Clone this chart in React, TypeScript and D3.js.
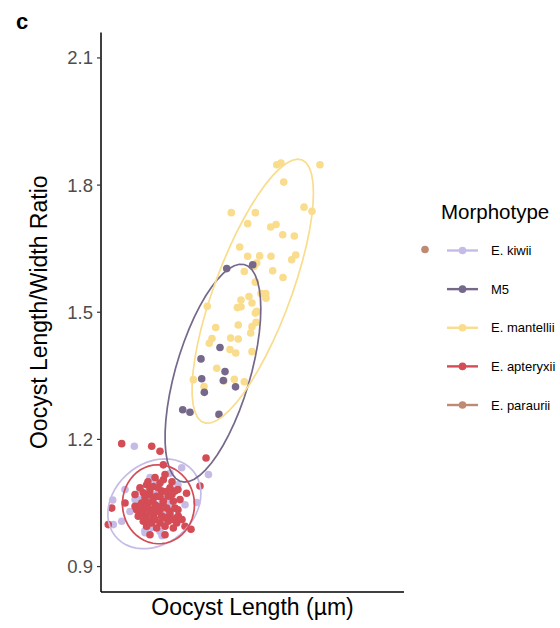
import React from "react";
import * as d3 from "d3";

type Pt = [number, number];

const morphotypes = ["E. kiwii", "M5", "E. mantellii", "E. apteryxii", "E. paraurii"];
const colors = ["#c6bbe6", "#76688a", "#f9dc8c", "#d44c55", "#bf8a73"];
const yTicks = [0.9, 1.2, 1.5, 1.8, 2.1];

const kiwiPoints: Pt[] = [
  [13.3, 1.184], [17.99, 1.133], [20.64, 1.117], [11.16, 1.057], [13.37, 1.058], [12.05, 1.007],
  [11.22, 0.999], [19.48, 1.051], [15.02, 0.992], [13.86, 1.082], [15.35, 1.105], [16.83, 1.058],
  [18.32, 1.046], [14.85, 1.023], [16.34, 1.011], [12.87, 1.03], [17.62, 1.093], [15.84, 0.983],
  [14.36, 0.98], [12.38, 1.082],
  [14.85, 1.058], [15.84, 1.046], [15.35, 1.07], [16.34, 1.034], [14.36, 1.034], [15.84, 1.082],
  [16.83, 1.046], [14.85, 1.011], [15.64, 1.023], [13.86, 1.058], [16.34, 1.07],
  [16.83, 1.12], [14.85, 1.11], [16.04, 0.973], [14.36, 0.985],
];

const mantelliiPoints: Pt[] = [
  [27.4, 1.848], [27.82, 1.852], [31.68, 1.848], [28.09, 1.807], [22.9, 1.735], [25.28, 1.735],
  [30.1, 1.748], [30.89, 1.738], [24.52, 1.709], [26.8, 1.701], [27.33, 1.707], [27.99, 1.683],
  [29.14, 1.68], [23.73, 1.654], [24.52, 1.632], [25.71, 1.633], [26.83, 1.632], [28.88, 1.624],
  [29.28, 1.635], [25.42, 1.616], [25.15, 1.608], [27.0, 1.598], [28.02, 1.582], [24.19, 1.596],
  [25.28, 1.571], [25.84, 1.544], [26.31, 1.544], [26.34, 1.533], [24.65, 1.537], [23.86, 1.529],
  [24.95, 1.522], [23.5, 1.511], [23.86, 1.513], [25.28, 1.498], [25.42, 1.502], [24.95, 1.466],
  [25.35, 1.476], [23.59, 1.47], [24.82, 1.451], [21.36, 1.464], [22.84, 1.439], [23.59, 1.437],
  [20.99, 1.438], [20.72, 1.427], [22.77, 1.412], [23.34, 1.404], [24.95, 1.407], [21.46, 1.368],
  [23.2, 1.342], [24.19, 1.336], [19.14, 1.341], [20.2, 1.325], [20.52, 1.514],
  [22.18, 1.338],
];

const m5Points: Pt[] = [
  [22.45, 1.603], [25.02, 1.612], [21.78, 1.417], [19.9, 1.39], [22.28, 1.36], [22.11, 1.339],
  [19.97, 1.343], [23.32, 1.324], [20.23, 1.311], [18.09, 1.27], [18.81, 1.264], [21.68, 1.259],
];

const apteryxiiPoints: Pt[] = [
  [12.05, 1.19], [15.02, 1.184], [15.84, 1.172], [16.17, 1.14], [20.4, 1.156], [19.8, 1.09],
  [18.47, 1.073], [11.06, 1.038], [12.38, 1.05], [10.72, 0.999], [18.91, 0.988], [17.5, 1.015],
  [14.52, 1.093], [15.18, 1.089], [15.84, 1.097], [16.17, 1.105], [16.83, 1.086], [16.01, 1.078],
  [17.33, 1.078], [14.19, 1.074], [14.85, 1.07], [15.51, 1.066], [16.66, 1.066], [14.03, 1.05],
  [14.68, 1.05], [15.35, 1.046], [16.17, 1.054], [17.16, 1.054], [17.82, 1.058], [13.53, 1.034],
  [14.19, 1.034], [15.02, 1.034], [15.84, 1.034], [16.5, 1.038], [17.33, 1.038], [13.69, 1.019],
  [14.36, 1.019], [15.18, 1.019], [16.01, 1.019], [16.83, 1.023], [17.65, 1.019], [14.19, 1.007],
  [15.02, 1.003], [15.84, 1.003], [16.66, 1.007], [17.5, 1.003], [14.52, 0.995], [15.51, 0.991],
  [16.34, 0.995], [17.16, 0.991], [18.32, 0.995], [13.37, 1.042],
  [14.85, 1.082], [15.64, 1.086], [16.44, 1.077], [14.36, 1.063], [15.15, 1.058], [15.84, 1.065],
  [17.03, 1.07], [13.86, 1.044], [14.55, 1.041], [15.64, 1.041], [16.14, 1.046], [16.83, 1.03],
  [17.62, 1.034], [14.06, 1.027], [14.85, 1.027], [15.54, 1.03], [16.34, 1.016], [17.13, 1.011],
  [14.55, 1.011], [15.35, 1.011], [18.02, 1.011],
  [15.35, 1.11], [16.34, 1.117], [14.65, 1.1], [17.03, 1.1], [13.86, 1.086], [17.62, 1.082],
  [13.37, 1.07], [14.85, 0.975], [16.34, 0.975],
];

const parauriiPoints: Pt[] = [[42.08, 1.648]];

// legend order
const groups: Pt[][] = [kiwiPoints, m5Points, mantelliiPoints, apteryxiiPoints, parauriiPoints];
// drawing order of the point layer (indices into groups)
const drawOrder = [0, 2, 1, 3, 4];

// MASS::cov.trob (nu = 5) as used by ggplot2 stat_ellipse(type = "t")
function covTrob(pts: Pt[]) {
  const n = pts.length;
  const p = 2;
  const nu = 5;
  let loc: Pt = [d3.mean(pts, (d) => d[0])!, d3.mean(pts, (d) => d[1])!];
  let w = pts.map(() => 1);
  let X: Pt[] = [];
  for (let iter = 0; iter < 25; iter++) {
    const w0 = w.slice();
    X = pts.map((d) => [d[0] - loc[0], d[1] - loc[1]] as Pt);
    const sw = d3.sum(w);
    let a = 0, b = 0, c = 0;
    X.forEach((x, i) => {
      a += w[i] * x[0] * x[0];
      b += w[i] * x[0] * x[1];
      c += w[i] * x[1] * x[1];
    });
    a /= sw; b /= sw; c /= sw;
    const det = a * c - b * b;
    const Q = X.map((x) => (c * x[0] * x[0] - 2 * b * x[0] * x[1] + a * x[1] * x[1]) / det);
    w = Q.map((q) => (nu + p) / (nu + q));
    const sw2 = d3.sum(w);
    loc = [d3.sum(pts, (d, i) => w[i] * d[0]) / sw2, d3.sum(pts, (d, i) => w[i] * d[1]) / sw2];
    if (w.every((v, i) => Math.abs(v - w0[i]) < 1e-4)) break;
  }
  let a = 0, b = 0, c = 0;
  X.forEach((x, i) => {
    a += w[i] * x[0] * x[0];
    b += w[i] * x[0] * x[1];
    c += w[i] * x[1] * x[1];
  });
  return { center: loc, cov: [a / n, b / n, c / n] };
}

function ellipsePoints(pts: Pt[], level = 0.95, segments = 51): Pt[] {
  const n = pts.length;
  const { center, cov } = covTrob(pts);
  const [a, b, c] = cov;
  const dfd = n - 1;
  const fq = (dfd / 2) * (Math.pow(1 - level, -2 / dfd) - 1);
  const radius = Math.sqrt(2 * fq);
  const u11 = Math.sqrt(a);
  const u12 = b / u11;
  const u22 = Math.sqrt(Math.max(c - u12 * u12, 0));
  return d3.range(segments + 1).map((k) => {
    const t = (k * 2 * Math.PI) / segments;
    const cx = Math.cos(t), sy = Math.sin(t);
    return [center[0] + radius * cx * u11, center[1] + radius * (cx * u12 + sy * u22)] as Pt;
  });
}

const W = 560;
const H = 628;
const left = 101;
const right = 404;
const top = 32.5;
const bottom = 592;

export default function App() {
  const x = d3.scaleLinear().domain([10, 40]).range([left, right]);
  const y = d3.scaleLinear().domain([0.84, 2.16]).range([bottom, top]);
  const line = d3
    .line<Pt>()
    .x((d) => x(d[0]))
    .y((d) => y(d[1]));

  const font = "'Liberation Sans', Arial, Helvetica, sans-serif";
  const legendY = d3.scalePoint<string>().domain(morphotypes).range([250.5, 405]);

  return (
    <svg
      width={W}
      height={H}
      style={{ position: "absolute", left: 0, top: 0, display: "block", background: "#fff" }}
      fontFamily={font}
    >
      <rect x={0} y={0} width={W} height={H} fill="#fff" />
      <text x={16} y={29} fontSize={22} fontWeight="bold" fill="#000">
        c
      </text>

      {/* points */}
      {drawOrder.map((gi) =>
        groups[gi].map((d, i) => (
          <circle key={`p${gi}-${i}`} cx={x(d[0])} cy={y(d[1])} r={3.8} fill={colors[gi]} />
        ))
      )}

      {/* ellipses */}
      {groups.map((g, gi) =>
        g.length >= 3 ? (
          <path
            key={`e${gi}`}
            d={line(ellipsePoints(g)) || ""}
            fill="none"
            stroke={colors[gi]}
            strokeWidth={1.7}
          />
        ) : null
      )}

      {/* axes */}
      <line x1={left} x2={left} y1={top} y2={bottom} stroke="#000" strokeWidth={1.5} />
      <line x1={left} x2={right} y1={bottom} y2={bottom} stroke="#000" strokeWidth={1.5} />
      {yTicks.map((t) => (
        <g key={`t${t}`}>
          <line x1={left - 4} x2={left} y1={y(t)} y2={y(t)} stroke="#333" strokeWidth={1.2} />
          <text
            x={left - 8}
            y={y(t)}
            dy="0.35em"
            textAnchor="end"
            fontSize={18.5}
            fill="#4d4d4d"
          >
            {t.toFixed(1)}
          </text>
        </g>
      ))}
      <text
        transform={`translate(47,${(top + bottom) / 2}) rotate(-90)`}
        textAnchor="middle"
        fontSize={23}
        fill="#000"
      >
        Oocyst Length/Width Ratio
      </text>
      <text x={(left + right) / 2} y={615} textAnchor="middle" fontSize={23} fill="#000">
        Oocyst Length (µm)
      </text>

      {/* legend */}
      <text x={441} y={219} fontSize={20.5} fill="#000">
        Morphotype
      </text>
      {morphotypes.map((m, i) => {
        const ly = legendY(m)!;
        return (
          <g key={`l${m}`}>
            <line x1={447} x2={478} y1={ly} y2={ly} stroke={colors[i]} strokeWidth={2.4} />
            <circle cx={462.5} cy={ly} r={3.8} fill={colors[i]} />
            <text x={491} y={ly} dy="0.35em" fontSize={13} fill="#000">
              {m}
            </text>
          </g>
        );
      })}
    </svg>
  );
}
